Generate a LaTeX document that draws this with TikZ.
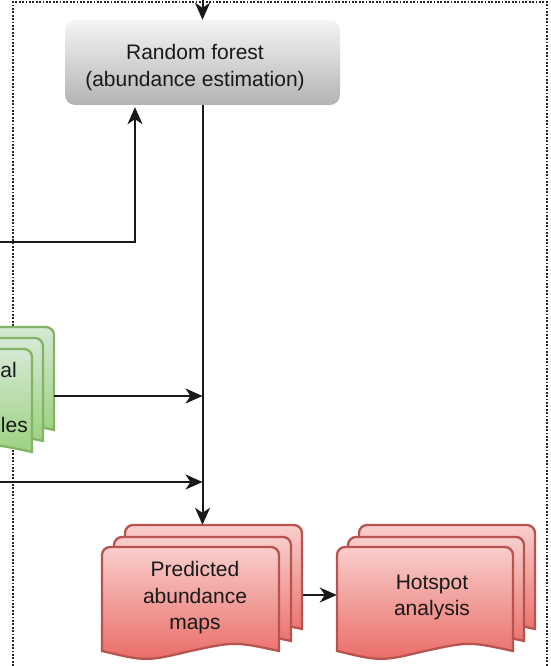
\documentclass[tikz,border=0pt]{standalone}
\usepackage{fontspec}
\setmainfont{Liberation Sans}
\usetikzlibrary{arrows.meta}
\definecolor{redtop}{HTML}{F8CECC}
\definecolor{redbot}{HTML}{EA6B66}
\definecolor{redline}{HTML}{B85450}
\definecolor{greentop}{HTML}{D5E8D4}
\definecolor{greenbot}{HTML}{97D077}
\definecolor{greenline}{HTML}{82B366}
\definecolor{graytop}{HTML}{F5F5F5}
\definecolor{graybot}{HTML}{B3B3B3}
\newcommand{\docshape}[5]{%
  \path[#5] (#1,#2-#4) -- (#1,#2-8) arc[start angle=180,end angle=90,radius=8]
    -- (#1+#3-8,#2) arc[start angle=90,end angle=0,radius=8]
    -- (#1+#3,#2-#4) .. controls (#1+0.75*#3,#2-#4+9.5) .. (#1+0.5*#3,#2-#4)
    .. controls (#1+0.25*#3,#2-#4-10.5) .. (#1,#2-#4) -- cycle;}
\tikzset{
  redlayer/.style={draw=redline, line width=2.3pt, top color=redtop, bottom color=redbot},
  greenlayer/.style={draw=greenline, line width=2.3pt, top color=greentop, bottom color=greenbot},
  txt/.style={align=center, inner sep=0pt, font=\fontsize{21}{26.5}\selectfont, text=black!90},
  bbox/.style={inner sep=0pt, draw=none},
  conn/.style={line width=2pt, black!90},
  arr/.style={conn, -{Stealth[length=17pt,width=15pt,inset=5pt]}},
  frame/.style={line width=1.8pt, dash pattern=on 1.8pt off 1.6pt, black!85},
  rfbox/.style={rectangle, rounded corners=10pt, minimum width=275pt, minimum height=85pt,
    top color=graytop, bottom color=graybot, draw=none, inner sep=0pt}
}
\begin{document}
\begin{tikzpicture}[x=1pt,y=1pt]
\clip (0,0) rectangle (550,666);
% dotted frame
\draw[frame] (13,0) -- (13,664) -- (547,664) -- (547,0);
% random forest
\node[rfbox] (rf) at (202.5,603.5) {};
\node[txt, font=\fontsize{21}{27}\selectfont] (rftxt) at (195,598.5) {Random forest\\(abundance estimation)};
\coordinate (topin) at (202.5,666);
\draw[arr] (topin) -- (rf.north);
\coordinate (lin) at (0,424);
\draw[arr, shorten >=2pt] (lin) -| ([xshift=-67.5pt]rf.south);
% green stack
\docshape{-123}{339}{177}{103}{greenlayer}
\docshape{-134}{328}{177}{103}{greenlayer}
\docshape{-145}{317}{177}{103}{greenlayer}
\node[bbox, minimum width=199pt, minimum height=133pt] (green) at (-45.5,272.5) {};
\node[txt, anchor=east] (gt1) at (17,296) {al};
\node[txt, anchor=east] (gt2) at (28,241) {les};
% predicted stack
\docshape{125}{141}{177}{104}{redlayer}
\docshape{114}{129}{177}{104}{redlayer}
\docshape{102}{119}{177}{104}{redlayer}
\node[bbox, minimum width=201pt, minimum height=132pt] (pred) at (202.5,75) {};
\node[txt] (predtxt) at (195,68) {Predicted\\abundance\\maps};
% hotspot stack
\docshape{359}{141}{176}{104}{redlayer}
\docshape{348}{129}{176}{104}{redlayer}
\docshape{337}{119}{176}{104}{redlayer}
\node[bbox, minimum width=198pt, minimum height=132pt] (hot) at (436,75) {};
\node[txt] (hottxt) at (432,68.5) {Hotspot\\analysis};
% connectors
\coordinate (j1) at (202.5,270);
\coordinate (j2) at (202.5,184);
\coordinate (bin) at (0,184);
\coordinate (pj) at (0,71);
\draw[arr] (rf.south) -- (pred.north);
\draw[arr] (green.east |- j1) -- (j1);
\draw[arr] (bin) -- (j2);
\draw[arr] (pred.east |- pj) -- (hot.west |- pj);
\end{tikzpicture}
\end{document}
